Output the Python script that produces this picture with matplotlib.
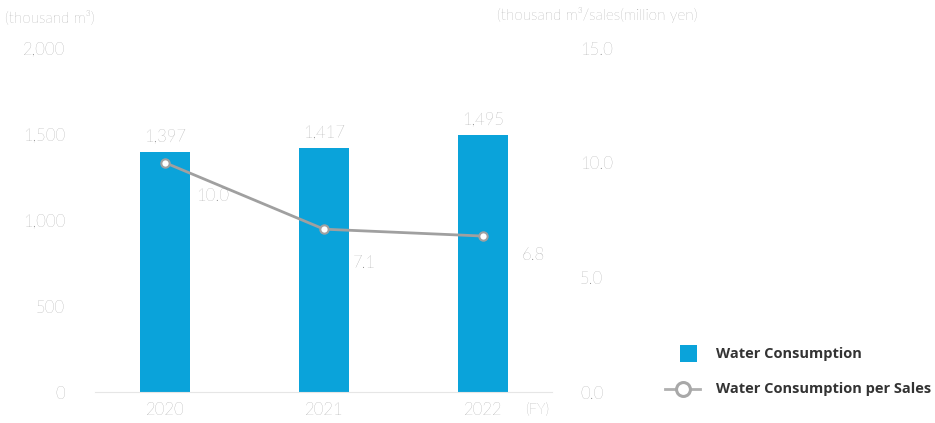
import matplotlib
matplotlib.use("Agg")
import matplotlib.pyplot as plt
from matplotlib.lines import Line2D
from matplotlib.patches import Rectangle

# Data
years = ["2020", "2021", "2022"]
consumption = [1397, 1417, 1495]          # thousand m3
per_sales = [10.0, 7.1, 6.8]              # thousand m3 / sales (million yen)
left_ticks = [0, 500, 1000, 1500, 2000]
right_ticks = [0.0, 5.0, 10.0, 15.0]

BAR_COLOR = "#0AA3DA"
LINE_COLOR = "#A0A0A0"
TEXT_COLOR = "#7E7E7E"
FONT = ["Lato", "DejaVu Sans"]
LEGEND_FONT = ["Open Sans", "DejaVu Sans"]
TICK_SIZE = 12

W, H = 935, 423
fig = plt.figure(figsize=(W / 100, H / 100), dpi=100)
fig.patch.set_facecolor("white")

def px_axes(x0, y0, x1, y1):
    return [x0 / W, 1 - y1 / H, (x1 - x0) / W, (y1 - y0) / H]

ax = fig.add_axes(px_axes(95, 48, 552, 392))
x = list(range(len(years)))
ax.bar(x, consumption, width=0.315, color=BAR_COLOR, zorder=2)
ax.set_xlim(-0.44, 2.434)
ax.set_ylim(0, 2000)

for s in ["top", "right", "left"]:
    ax.spines[s].set_visible(False)
ax.spines["bottom"].set_color("#E6E6E6")
ax.spines["bottom"].set_linewidth(0.8)

ax.set_yticks(left_ticks)
ax.set_yticklabels([f"{v:,}" for v in left_ticks])
ax.tick_params(axis="y", length=0, pad=21.5, labelcolor=TEXT_COLOR,
               labelsize=TICK_SIZE)
ax.set_xticks(x)
ax.set_xticklabels(years)
ax.tick_params(axis="x", length=0, pad=7.5, labelcolor=TEXT_COLOR,
               labelsize=TICK_SIZE)
for lbl in ax.get_xticklabels() + ax.get_yticklabels():
    lbl.set_family(FONT)
    lbl.set_fontweight("light")

for xi, v in zip(x, consumption):
    ax.annotate(f"{v:,}", (xi, v), xytext=(0, 7), textcoords="offset pixels",
                ha="center", va="bottom", color=TEXT_COLOR, fontsize=TICK_SIZE,
                family=FONT, fontweight="light")

ax2 = ax.twinx()
ax2.set_ylim(0, 15)
for s in ["top", "right", "left", "bottom"]:
    ax2.spines[s].set_visible(False)
ax2.plot(x, per_sales, color=LINE_COLOR, lw=2, marker="o", markersize=6,
         markerfacecolor="white", markeredgecolor=LINE_COLOR,
         markeredgewidth=1.5, zorder=3)
ax2.set_yticks(right_ticks)
ax2.set_yticklabels([f"{v:.1f}" for v in right_ticks])
ax2.tick_params(axis="y", length=0, pad=20, labelcolor=TEXT_COLOR,
                labelsize=TICK_SIZE)
for lbl in ax2.get_yticklabels():
    lbl.set_family(FONT)
    lbl.set_fontweight("light")

line_offsets = [(48, -33), (40, -34), (50, -19)]
for xi, v, off in zip(x, per_sales, line_offsets):
    ax2.annotate(f"{v:.1f}", (xi, v), xytext=off, textcoords="offset pixels",
                 ha="center", va="center", color=TEXT_COLOR, fontsize=TICK_SIZE,
                 family=FONT, fontweight="light")

# Axis unit captions
fig.text(5 / W, 1 - 18 / H, "(thousand m³)", ha="left", va="center",
         color=TEXT_COLOR, fontsize=11, family=FONT, fontweight="light")
fig.text(497 / W, 1 - 15 / H, "(thousand m³/sales(million yen)", ha="left",
         va="center", color=TEXT_COLOR, fontsize=11, family=FONT,
         fontweight="light")
fig.text(537 / W, 1 - 410 / H, "(FY)", ha="center", va="center",
         color=TEXT_COLOR, fontsize=10.5, family=FONT, fontweight="light")

# Legend
fig.patches.append(Rectangle((680 / W, 1 - 362 / H), 17 / W, 17 / H,
                             transform=fig.transFigure, facecolor=BAR_COLOR,
                             edgecolor="none"))
fig.text(716 / W, 1 - 354 / H, "Water Consumption", ha="left", va="center",
         color="#333333", fontsize=10.5, family=LEGEND_FONT, fontweight="bold")
fig.lines.append(Line2D([665 / W, 700 / W], [1 - 389 / H, 1 - 389 / H],
                        transform=fig.transFigure, color="#B0B0B0", lw=2))
fig.lines.append(Line2D([683 / W], [1 - 389 / H], transform=fig.transFigure,
                        marker="o", markersize=10, markerfacecolor="white",
                        markeredgecolor="#A8A8A8", markeredgewidth=2.2,
                        linestyle="none"))
fig.text(716 / W, 1 - 389 / H, "Water Consumption per Sales", ha="left",
         va="center", color="#333333", fontsize=10.5, family=LEGEND_FONT,
         fontweight="bold")

fig.savefig("out.png", dpi=100, facecolor="white")
